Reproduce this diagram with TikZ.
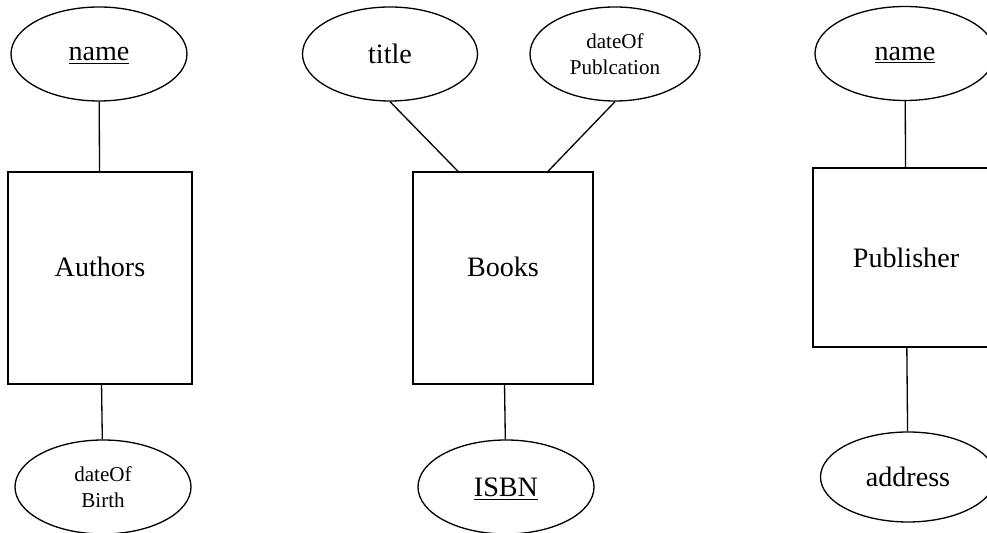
\documentclass[tikz,border=0pt]{standalone}
\usepackage{fontspec}
\setmainfont{Liberation Serif}
\usetikzlibrary{shapes.geometric}
\newcommand{\keyattr}[1]{\raisebox{0pt}[\height][0pt]{\underline{#1}}}
\tikzset{
  entity/.style={draw, rectangle, line width=0.75pt, minimum width=3.68cm,
                 minimum height=4.24cm, font=\fontsize{16}{18}\selectfont},
  attr/.style={draw, ellipse, line width=0.75pt, minimum width=3.52cm,
               minimum height=1.88cm, inner sep=0pt, align=center,
               font=\fontsize{16}{18}\selectfont},
  smallattr/.style={attr, font=\fontsize{12}{14.5}\selectfont},
  link/.style={line width=0.75pt}
}
\begin{document}
\begin{tikzpicture}
\useasboundingbox (0,0) rectangle (19.74,10.66);
\clip (0,0) rectangle (19.74,10.66);

% authors
\node[attr] (aname) at (1.98,9.58) {\keyattr{name}};
\node[entity, text depth=0.45cm] (authors) at (2.00,5.10) {Authors};
\node[smallattr] (abirth) at (2.06,0.92) {dateOf\\Birth};
\draw[link] (aname) -- (authors);
\draw[link] (authors) -- (abirth);

% books
\node[attr, minimum width=3.5cm] (btitle) at (7.80,9.58) {title};
\node[smallattr, minimum width=3.4cm] (bpub) at (12.30,9.58) {dateOf\\Publcation};
\node[entity, minimum width=3.6cm, text depth=0.45cm] (books) at (10.06,5.10) {Books};
\node[attr] (bisbn) at (10.12,0.92) {\keyattr{ISBN}};
\draw[link] (btitle.south) -- ([xshift=-0.9cm]books.north);
\draw[link] (bpub.south) -- ([xshift=0.9cm]books.north);
\draw[link] (books) -- (bisbn);

% publisher
\node[attr, minimum width=3.6cm] (pname) at (18.10,9.59) {\keyattr{name}};
\node[entity, minimum width=3.72cm, minimum height=3.58cm] (publisher) at (18.12,5.51) {Publisher};
\node[attr, minimum width=3.5cm, minimum height=1.8cm] (paddr) at (18.16,1.12) {address};
\draw[link] (pname) -- (publisher);
\draw[link] (publisher) -- (paddr);
\end{tikzpicture}
\end{document}
